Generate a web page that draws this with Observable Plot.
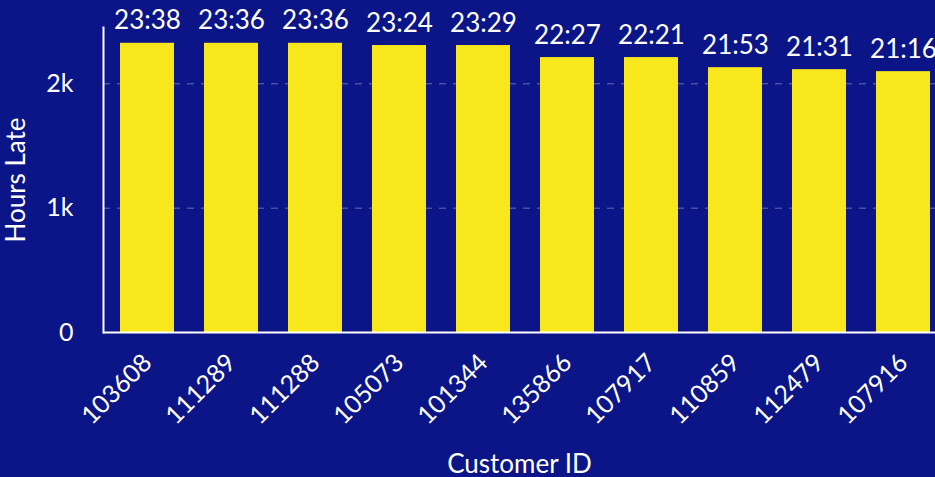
<!DOCTYPE html>
<html>
<head>
<meta charset="utf-8">
<script src="https://cdn.jsdelivr.net/npm/d3@7"></script>
<script src="https://cdn.jsdelivr.net/npm/@observablehq/plot@0.6"></script>
<style>
  html, body { margin: 0; padding: 0; background: #0C1587; overflow: hidden; }
  #chart svg { display: block; }
</style>
</head>
<body>
<div id="chart"></div>
<script>
const customerIds = ["103608","111289","111288","105073","101344","135866","107917","110859","112479","107916"];
const hoursLate = [2326, 2326, 2326, 2308, 2308, 2211, 2211, 2130, 2114, 2098];
const barLabels = ["23:38","23:36","23:36","23:24","23:29","22:27","22:21","21:53","21:31","21:16"];
const yTicks = [0, 1000, 2000];

const data = customerIds.map((id, i) => ({id, hours: hoursLate[i], label: barLabels[i]}));

const chart = Plot.plot({
  width: 935,
  height: 477,
  marginLeft: 103,
  marginRight: 0,
  marginTop: 27,
  marginBottom: 145,
  style: {background: "#0C1587", color: "white", fontFamily: "Lato", fontSize: "24px", overflow: "visible"},
  x: {domain: customerIds, range: [103, 947], paddingInner: 0.357, paddingOuter: 0.2},
  y: {domain: [0, 2453]},
  marks: [
    Plot.gridY([1000, 2000], {stroke: "#ffffff", strokeOpacity: 0.38, strokeDasharray: "7,7"}),
    Plot.barY(data, {x: "id", y: "hours", fill: "#F9E71E"}),
    Plot.text(data, {x: "id", y: "hours", text: "label", lineAnchor: "bottom", dy: -14, fill: "white", fontSize: 26}),
    Plot.axisY({ticks: yTicks, tickFormat: d3.format("~s"), tickSize: 0, tickPadding: 30, fontSize: 25, label: null}),
    Plot.axisY({ticks: [], tickSize: 0, fontSize: 26,
      label: "Hours Late", labelAnchor: "center", labelOffset: 97, labelArrow: "none"}),
    Plot.axisX({tickSize: 0, tickPadding: 26, tickRotate: -45, fontSize: 25, label: null}),
    Plot.axisX({ticks: [], tickSize: 0, fontSize: 26,
      label: "Customer ID", labelAnchor: "center", labelOffset: 140, labelArrow: "none"}),
    Plot.ruleY([0], {stroke: "white", strokeWidth: 2}),
    Plot.frame({anchor: "left", stroke: "white", strokeWidth: 2})
  ]
});
document.getElementById("chart").appendChild(chart);
</script>
</body>
</html>
